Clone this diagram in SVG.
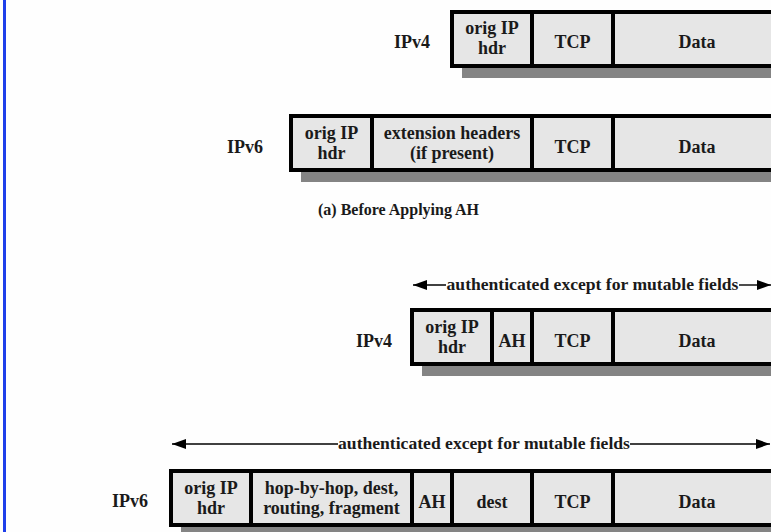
<svg xmlns="http://www.w3.org/2000/svg" width="771" height="532" viewBox="0 0 771 532">
  <defs>
    <style>
      text { font-family: "Liberation Serif", "Times New Roman", serif; font-weight: bold; font-size: 18px; fill: #1a1a1a; }
      .c { text-anchor: middle; }
      .lbl { text-anchor: end; }
      .span { font-size: 17.6px; }
      .cap { font-size: 16px; }
      .cell { fill: #e6e6e6; stroke: #000; stroke-width: 4; }
      .div { stroke: #000; stroke-width: 4; }
      .shadow { fill: #848484; }
      .arrow { stroke: #000; stroke-width: 1.4; fill: none; }
    </style>
    <marker id="head" viewBox="0 0 14 10" refX="14" refY="5" markerWidth="14" markerHeight="10" markerUnits="userSpaceOnUse" orient="auto-start-reverse">
      <path d="M0,0 L14,5 L0,10 Z" fill="#000"/>
    </marker>
  </defs>

  <rect x="0" y="0" width="771" height="532" fill="#fefefe"/>
  <!-- left page rule -->
  <rect x="3" y="0" width="3" height="532" fill="#1e3fea"/>

  <!-- (a) IPv4 packet before AH -->
  <g id="ipv4-before">
    <rect class="shadow" x="462" y="68" width="320" height="10"/>
    <rect class="cell" x="452" y="12" width="340" height="54"/>
    <line class="div" x1="532" y1="10" x2="532" y2="68"/>
    <line class="div" x1="613" y1="10" x2="613" y2="68"/>
    <text class="lbl" x="430" y="48">IPv4</text>
    <text class="c" x="492" y="34">orig IP</text>
    <text class="c" x="492" y="54">hdr</text>
    <text class="c" x="572.5" y="48">TCP</text>
    <text class="c" x="697" y="48">Data</text>
  </g>

  <!-- (a) IPv6 packet before AH -->
  <g id="ipv6-before">
    <rect class="shadow" x="301" y="172" width="480" height="10"/>
    <rect class="cell" x="291" y="116" width="500" height="54"/>
    <line class="div" x1="372" y1="114" x2="372" y2="172"/>
    <line class="div" x1="532" y1="114" x2="532" y2="172"/>
    <line class="div" x1="613" y1="114" x2="613" y2="172"/>
    <text class="lbl" x="263" y="153">IPv6</text>
    <text class="c" x="331.5" y="139">orig IP</text>
    <text class="c" x="331.5" y="159">hdr</text>
    <text class="c" x="452" y="139">extension headers</text>
    <text class="c" x="452" y="159">(if present)</text>
    <text class="c" x="572.5" y="153">TCP</text>
    <text class="c" x="697" y="153">Data</text>
  </g>

  <text id="caption-a" class="cap" x="318" y="215">(a) Before Applying AH</text>

  <!-- (b) IPv4 packet after AH -->
  <g id="ipv4-after">
    <rect class="shadow" x="422" y="366" width="360" height="10"/>
    <rect class="cell" x="412" y="310" width="380" height="54"/>
    <line class="div" x1="492" y1="308" x2="492" y2="366"/>
    <line class="div" x1="532" y1="308" x2="532" y2="366"/>
    <line class="div" x1="613" y1="308" x2="613" y2="366"/>
    <text class="lbl" x="392" y="347">IPv4</text>
    <text class="c" x="452" y="333">orig IP</text>
    <text class="c" x="452" y="353">hdr</text>
    <text class="c" x="512" y="347">AH</text>
    <text class="c" x="572.5" y="347">TCP</text>
    <text class="c" x="697" y="347">Data</text>
  </g>

  <!-- (b) IPv6 packet after AH -->
  <g id="ipv6-after">
    <rect class="shadow" x="181" y="527" width="600" height="10"/>
    <rect class="cell" x="171" y="471" width="620" height="54"/>
    <line class="div" x1="251" y1="469" x2="251" y2="527"/>
    <line class="div" x1="412" y1="469" x2="412" y2="527"/>
    <line class="div" x1="452" y1="469" x2="452" y2="527"/>
    <line class="div" x1="532" y1="469" x2="532" y2="527"/>
    <line class="div" x1="613" y1="469" x2="613" y2="527"/>
    <text class="lbl" x="148" y="507">IPv6</text>
    <text class="c" x="211" y="494">orig IP</text>
    <text class="c" x="211" y="514">hdr</text>
    <text class="c" x="331.5" y="494">hop-by-hop, dest,</text>
    <text class="c" x="331.5" y="514">routing, fragment</text>
    <text class="c" x="432" y="508">AH</text>
    <text class="c" x="492" y="508">dest</text>
    <text class="c" x="572.5" y="508">TCP</text>
    <text class="c" x="697" y="508">Data</text>
  </g>

  <!-- authenticated-span arrows -->
  <g id="connectors">
    <line class="arrow" x1="413" y1="285" x2="446" y2="285" marker-start="url(#head)"/>
    <line class="arrow" x1="739" y1="285" x2="771" y2="285" marker-end="url(#head)"/>
    <text class="c span" x="592.5" y="290">authenticated except for mutable fields</text>
    <line class="arrow" x1="172" y1="444" x2="338" y2="444" marker-start="url(#head)"/>
    <line class="arrow" x1="630" y1="444" x2="770" y2="444" marker-end="url(#head)"/>
    <text class="c span" x="484" y="449">authenticated except for mutable fields</text>
  </g>
</svg>
